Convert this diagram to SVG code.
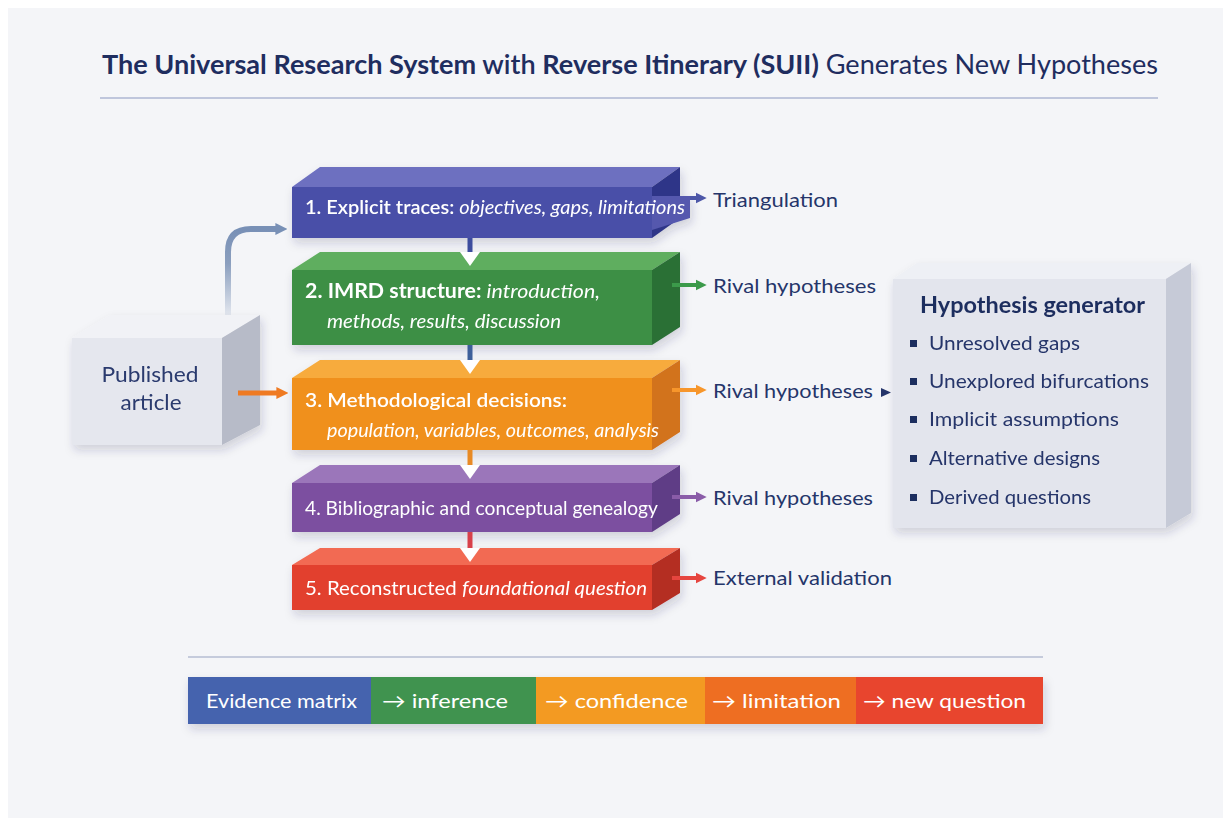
<svg xmlns="http://www.w3.org/2000/svg" width="1231" height="826" viewBox="0 0 1231 826">
<defs>
<style>
.t{font-family:Lato,'Open Sans','Liberation Sans',sans-serif}
.w{fill:#ffffff;font-size:20px}
.n{fill:#25356a;font-size:20px}
.it{font-style:italic}
.b{font-weight:700}
.m{font-weight:600}
.face{stroke:none}
</style>
<filter id="sh" x="-10%" y="-20%" width="130%" height="160%">
<feDropShadow dx="2" dy="5" stdDeviation="5" flood-color="#2a3050" flood-opacity="0.18"/>
</filter>
<linearGradient id="curveG" gradientUnits="userSpaceOnUse" x1="0" y1="315" x2="0" y2="229">
<stop offset="0" stop-color="#7f95b8" stop-opacity="0.15"/>
<stop offset="0.6" stop-color="#7f95b8" stop-opacity="0.9"/>
<stop offset="1" stop-color="#7890b6"/>
</linearGradient>
<marker id="hSlate" viewBox="0 0 10 10" refX="3" refY="5" markerWidth="12" markerHeight="16" markerUnits="userSpaceOnUse" orient="auto"><path d="M0,0 L10,5 L0,10 z" fill="#7890b6"/></marker>
<marker id="hOr" viewBox="0 0 10 10" refX="3" refY="5" markerWidth="12" markerHeight="16" markerUnits="userSpaceOnUse" orient="auto"><path d="M0,0 L10,5 L0,10 z" fill="#ef7a22"/></marker>
<marker id="h1" viewBox="0 0 10 10" refX="3" refY="5" markerWidth="11" markerHeight="15" markerUnits="userSpaceOnUse" orient="auto"><path d="M0,0 L10,5 L0,10 z" fill="#4d57a8"/></marker>
<marker id="h2" viewBox="0 0 10 10" refX="3" refY="5" markerWidth="11" markerHeight="15" markerUnits="userSpaceOnUse" orient="auto"><path d="M0,0 L10,5 L0,10 z" fill="#3b9a4a"/></marker>
<marker id="h3" viewBox="0 0 10 10" refX="3" refY="5" markerWidth="11" markerHeight="15" markerUnits="userSpaceOnUse" orient="auto"><path d="M0,0 L10,5 L0,10 z" fill="#f7962b"/></marker>
<marker id="h4" viewBox="0 0 10 10" refX="3" refY="5" markerWidth="11" markerHeight="15" markerUnits="userSpaceOnUse" orient="auto"><path d="M0,0 L10,5 L0,10 z" fill="#8a5ca8"/></marker>
<marker id="h5" viewBox="0 0 10 10" refX="3" refY="5" markerWidth="11" markerHeight="15" markerUnits="userSpaceOnUse" orient="auto"><path d="M0,0 L10,5 L0,10 z" fill="#e6453f"/></marker>
</defs>

<rect x="0" y="0" width="1231" height="826" fill="#ffffff"/>
<rect x="8" y="8" width="1215" height="810" fill="#f4f5f8"/>

<g id="title">
<text class="t" x="102" y="74" font-size="27" fill="#1f2d5f" textLength="1056" lengthAdjust="spacingAndGlyphs"><tspan class="b">The Universal Research System</tspan><tspan class="m"> with </tspan><tspan class="b">Reverse Itinerary (SUII)</tspan><tspan> Generates New Hypotheses</tspan></text>
<line x1="100" y1="98" x2="1158" y2="98" stroke="#bfc6dc" stroke-width="2"/>
</g>

<g id="published-article" filter="url(#sh)">
<polygon class="face" points="72,338 110,315 260,315 222,338" fill="#f1f2f6"/>
<polygon class="face" points="222,338 260,315 260,425 222,445" fill="#b7bbc8"/>
<rect class="face" x="72" y="338" width="150" height="107" fill="#e5e7ee"/>
<text class="t" x="150" y="382" font-size="22" fill="#2a3a6e" text-anchor="middle" textLength="97" lengthAdjust="spacingAndGlyphs">Published</text>
<text class="t" x="151" y="410" font-size="22" fill="#2a3a6e" text-anchor="middle" textLength="61" lengthAdjust="spacingAndGlyphs">article</text>
</g>

<g id="block1" filter="url(#sh)">
<polygon class="face" points="292,187 320,167 680,167 652,187" fill="#6d6fc0"/>
<polygon class="face" points="652,187 680,167 680,218 652,238" fill="#2f3688"/>
<rect class="face" x="292" y="187" width="360" height="51" fill="#4a50a8"/>
<polygon class="face" points="652,196 690,196 690,218 652,230" fill="#5458ae"/>
<text class="t w" x="305" y="214" textLength="380" lengthAdjust="spacingAndGlyphs"><tspan class="m">1. Explicit traces: </tspan><tspan class="it">objectives, gaps, limitations</tspan></text>
</g>

<g id="block2" filter="url(#sh)">
<polygon class="face" points="292,270 320,252 680,252 652,270" fill="#5fae5f"/>
<polygon class="face" points="652,270 680,252 680,327 652,345" fill="#2b6f36"/>
<rect class="face" x="292" y="270" width="360" height="75" fill="#3d8f45"/>
<text class="t w" x="305" y="298" textLength="295" lengthAdjust="spacingAndGlyphs"><tspan class="b">2. IMRD structure: </tspan><tspan class="it">introduction,</tspan></text>
<text class="t w it" x="327" y="328" textLength="234" lengthAdjust="spacingAndGlyphs">methods, results, discussion</text>
</g>

<g id="block3" filter="url(#sh)">
<polygon class="face" points="292,378 320,360 680,360 652,378" fill="#f7ab3e"/>
<polygon class="face" points="652,378 680,360 680,432 652,450" fill="#d2731a"/>
<rect class="face" x="292" y="378" width="360" height="72" fill="#f0901e"/>
<text class="t w m" x="305" y="407" textLength="262" lengthAdjust="spacingAndGlyphs">3. Methodological decisions:</text>
<text class="t w it" x="327" y="437" textLength="332" lengthAdjust="spacingAndGlyphs">population, variables, outcomes, analysis</text>
</g>

<g id="block4" filter="url(#sh)">
<polygon class="face" points="292,483 320,465 680,465 652,483" fill="#9b76ba"/>
<polygon class="face" points="652,483 680,465 680,514 652,532" fill="#5f3c86"/>
<rect class="face" x="292" y="483" width="360" height="49" fill="#7b50a0"/>
<text class="t w" x="305" y="515" textLength="353" lengthAdjust="spacingAndGlyphs">4. Bibliographic and conceptual genealogy</text>
</g>

<g id="block5" filter="url(#sh)">
<polygon class="face" points="292,565 320,548 680,548 652,565" fill="#f26a52"/>
<polygon class="face" points="652,565 680,548 680,593 652,610" fill="#b42d22"/>
<rect class="face" x="292" y="565" width="360" height="45" fill="#e2412f"/>
<text class="t w" x="305" y="595" textLength="342" lengthAdjust="spacingAndGlyphs"><tspan>5. Reconstructed </tspan><tspan class="it">foundational question</tspan></text>
</g>

<g id="hypothesis-generator" filter="url(#sh)">
<polygon class="face" points="893,279 917,263 1191,263 1166,279" fill="#eef0f5"/>
<polygon class="face" points="1166,279 1191,263 1191,513 1166,528" fill="#c6cad7"/>
<rect class="face" x="893" y="279" width="273" height="249" fill="#e3e5ed"/>
<text class="t b" x="920" y="313" font-size="22" fill="#1f2d5f" textLength="225" lengthAdjust="spacingAndGlyphs">Hypothesis generator</text>
<g fill="#1f2d5f">
<rect x="910" y="340" width="7" height="7"/>
<rect x="910" y="378" width="7" height="7"/>
<rect x="910" y="416" width="7" height="7"/>
<rect x="910" y="455" width="7" height="7"/>
<rect x="910" y="494" width="7" height="7"/>
</g>
<text class="t n" x="929" y="350" textLength="151" lengthAdjust="spacingAndGlyphs">Unresolved gaps</text>
<text class="t n" x="929" y="388" textLength="220" lengthAdjust="spacingAndGlyphs">Unexplored bifurcations</text>
<text class="t n" x="929" y="426" textLength="190" lengthAdjust="spacingAndGlyphs">Implicit assumptions</text>
<text class="t n" x="929" y="465" textLength="171" lengthAdjust="spacingAndGlyphs">Alternative designs</text>
<text class="t n" x="929" y="504" textLength="162" lengthAdjust="spacingAndGlyphs">Derived questions</text>
</g>

<g id="output-labels">
<text class="t n" x="713" y="207" textLength="125" lengthAdjust="spacingAndGlyphs">Triangulation</text>
<text class="t n" x="713" y="293" textLength="163" lengthAdjust="spacingAndGlyphs">Rival hypotheses</text>
<text class="t n" x="713" y="398" textLength="160" lengthAdjust="spacingAndGlyphs">Rival hypotheses</text>
<polygon points="881,388 891,392.5 881,397" fill="#25356a"/>
<text class="t n" x="713" y="505" textLength="160" lengthAdjust="spacingAndGlyphs">Rival hypotheses</text>
<text class="t n" x="713" y="585" textLength="179" lengthAdjust="spacingAndGlyphs">External validation</text>
</g>

<g id="connectors" fill="none">
<path d="M228,315 V252 Q228,229 251,229 H279" stroke="url(#curveG)" stroke-width="6" marker-end="url(#hSlate)"/>
<path d="M238,393 H280" stroke="#ef7a22" stroke-width="5" marker-end="url(#hOr)"/>

<path d="M690,198 H699" stroke="#4d57a8" stroke-width="4" marker-end="url(#h1)"/>
<path d="M672,285 H699" stroke="#3b9a4a" stroke-width="4" marker-end="url(#h2)"/>
<path d="M672,390 H699" stroke="#f7962b" stroke-width="4" marker-end="url(#h3)"/>
<path d="M672,497 H699" stroke="#8a5ca8" stroke-width="4" marker-end="url(#h4)"/>
<path d="M672,578 H699" stroke="#e6453f" stroke-width="4" marker-end="url(#h5)"/>

<line x1="470" y1="238" x2="470" y2="254" stroke="#3d4d9e" stroke-width="5"/>
<polygon points="460,252 480,252 470,266" fill="#ffffff"/>
<line x1="470" y1="345" x2="470" y2="362" stroke="#3d5f9a" stroke-width="5"/>
<polygon points="460,360 480,360 470,374" fill="#ffffff"/>
<line x1="470" y1="450" x2="470" y2="467" stroke="#e88a25" stroke-width="5"/>
<polygon points="460,465 480,465 470,479" fill="#ffffff"/>
<line x1="470" y1="532" x2="470" y2="550" stroke="#d8404a" stroke-width="5"/>
<polygon points="460,548 480,548 470,562" fill="#ffffff"/>
</g>

<g id="evidence-bar">
<line x1="188" y1="657" x2="1043" y2="657" stroke="#c5cbdc" stroke-width="2"/>
<g filter="url(#sh)">
<rect x="188" y="677" width="183" height="47" fill="#4563ae"/>
<rect x="371" y="677" width="165" height="47" fill="#3f9350"/>
<rect x="536" y="677" width="169" height="47" fill="#f39a22"/>
<rect x="705" y="677" width="151" height="47" fill="#ee6e24"/>
<rect x="856" y="677" width="187" height="47" fill="#e8452f"/>
</g>
<text class="t w" x="206" y="708" font-size="21" textLength="151" lengthAdjust="spacingAndGlyphs">Evidence matrix</text>
<text class="t w" x="382" y="708" font-size="21" textLength="126" lengthAdjust="spacingAndGlyphs">→ inference</text>
<text class="t w" x="545" y="708" font-size="21" textLength="143" lengthAdjust="spacingAndGlyphs">→ confidence</text>
<text class="t w" x="712" y="708" font-size="21" textLength="129" lengthAdjust="spacingAndGlyphs">→ limitation</text>
<text class="t w" x="863" y="708" font-size="21" textLength="163" lengthAdjust="spacingAndGlyphs">→ new question</text>
</g>
</svg>
